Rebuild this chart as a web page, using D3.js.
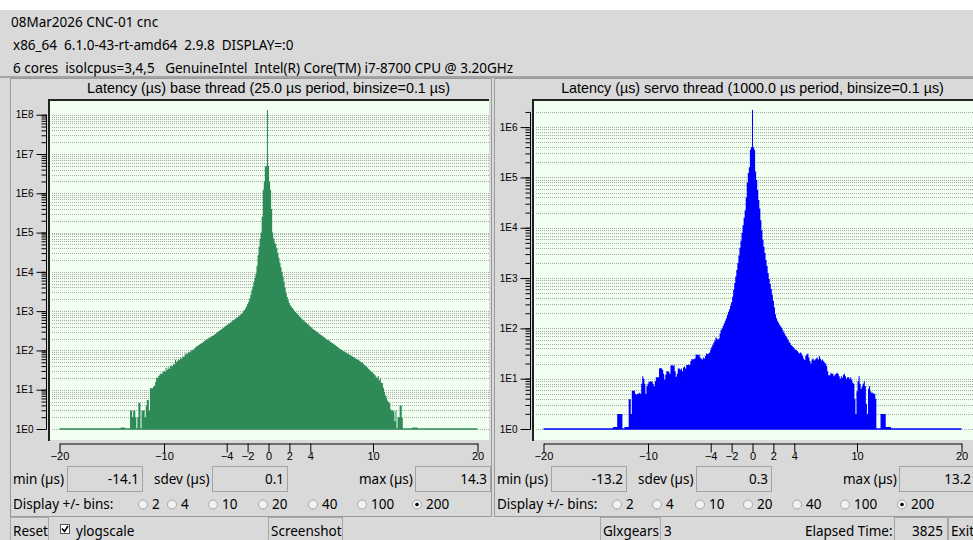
<!DOCTYPE html>
<html>
<head>
<meta charset="utf-8">
<script src="https://cdn.jsdelivr.net/npm/d3@7"></script>
<style>
    body { margin: 0; background: #fff; }
    svg { display: block; font-family: "Noto Sans", sans-serif; }
    .gui-text { font-size: 13.5px; fill: #000; }
    .title { font-family: "Liberation Sans", Arial, sans-serif; font-size: 14.3px; }
    .axis text { font-family: "Liberation Sans", Arial, sans-serif; font-size: 10px; fill: #000; }
    .x-axis text { font-size: 11px; }
    .axis line, .axis path { stroke: #000; }
</style>
</head>
<body>
<svg id="app" width="973" height="540"></svg>
<script>
// text in the header
const headerLines = [
    '08Mar2026 CNC-01 cnc',
    'x86_64  6.1.0-43-rt-amd64  2.9.8  DISPLAY=:0',
    '6 cores  isolcpus=3,4,5   GenuineIntel  Intel(R) Core(TM) i7-8700 CPU @ 3.20GHz'
];

// x axis tick labels (µs) and the "display +/- bins" choices
const binTicks = [-20, -10, -4, -2, 0, 2, 4, 10, 20];
const binChoices = ['2', '4', '10', '20', '40', '100', '200'];
const selectedChoice = '200';

// base thread histogram: log10(count) per 0.1 µs bin, first bin at baseStart
const baseStart = -14.1;
const baseLog10 = [
    0.04, 0.04, 0.04, 0.04, 0, 0, 0, 0, 0, 0.47,
    0.47, 0.3, 0.47, 0.47, 0.3, 0, 0.3, 0.66, 0.66, 0,
    0.47, 0.47, 0.47, 0.3, 0.6, 0.74, 0.74, 0.47, 1.04, 1.04,
    1.04, 1.08, 1.1, 1.2, 1.32, 1.3, 1.35, 1.38, 1.42, 1.4,
    1.45, 1.48, 1.45, 1.55, 1.5, 1.57, 1.53, 1.6, 1.62, 1.58,
    1.66, 1.64, 1.76, 1.7, 1.74, 1.78, 1.75, 1.82, 1.79, 1.85,
    1.83, 1.88, 1.93, 1.9, 1.94, 1.97, 1.95, 2.0, 2.02, 2.01,
    2.05, 2.07, 2.1, 2.11, 2.13, 2.15, 2.17, 2.18, 2.2, 2.23,
    2.24, 2.27, 2.28, 2.3, 2.32, 2.33, 2.35, 2.37, 2.38, 2.4,
    2.42, 2.44, 2.46, 2.48, 2.5, 2.52, 2.54, 2.56, 2.58, 2.6,
    2.62, 2.64, 2.66, 2.68, 2.7, 2.72, 2.74, 2.76, 2.78, 2.8,
    2.82, 2.84, 2.86, 2.88, 2.9, 2.93, 2.96, 3.0, 3.03, 3.07,
    3.12, 3.18, 3.24, 3.32, 3.42, 3.53, 3.63, 3.74, 3.85, 3.96,
    4.15, 4.42, 4.64, 4.85, 5.0, 5.4, 6.09, 6.3, 6.68, 6.7,
    8.12,
    6.7, 6.3, 6.09, 5.6, 5.0, 4.85, 4.75, 4.7, 4.6, 4.48,
    4.35, 4.23, 4.12, 4.0, 3.88, 3.74, 3.6, 3.46, 3.36, 3.28,
    3.21, 3.15, 3.11, 3.08, 3.04, 3.01, 2.98, 2.95, 2.92, 2.89,
    2.86, 2.83, 2.8, 2.78, 2.76, 2.73, 2.71, 2.68, 2.66, 2.64,
    2.61, 2.59, 2.56, 2.54, 2.52, 2.5, 2.48, 2.46, 2.44, 2.42,
    2.4, 2.38, 2.36, 2.34, 2.32, 2.3, 2.28, 2.26, 2.25, 2.23,
    2.21, 2.19, 2.17, 2.15, 2.13, 2.11, 2.09, 2.07, 2.05, 2.03,
    2.02, 2.0, 1.98, 1.97, 1.95, 1.93, 1.92, 1.9, 1.88, 1.87,
    1.85, 1.84, 1.82, 1.8, 1.79, 1.77, 1.76, 1.74, 1.72, 1.7,
    1.68, 1.66, 1.63, 1.61, 1.58, 1.56, 1.53, 1.5, 1.47, 1.45,
    1.43, 1.4, 1.37, 1.33, 1.3, 1.35, 1.24, 1.3, 1.18, 1.17,
    1.05, 0.95, 0.85, 0.8, 0.72, 0.68, 0.66, 0.5, 0.47, 0.47,
    0.45, 0.2, 0.47, 0, 0.3, 0.3, 0.6, 0.6, 0.28, 0,
    0, 0, 0, 0, 0, 0, 0, 0, 0.04, 0.04,
    0.04, 0.04, 0.04
];

// servo thread histogram: log10(count) per 0.1 µs bin, first bin at servoStart
const servoStart = -13.3;
const servoLog10 = [
    0.04, 0.04, 0.04, 0.04, 0.3, 0.3, 0.3, 0.3, 0.3, 0,
    0, 0.04, 0.04, 0.04, 0.04, 0.59, 0.59, 0.3, 0.76, 0.76,
    0.76, 0.7, 0.68, 0.7, 0.7, 0.72, 0.7, 0.9, 1.05, 1.0,
    0.9, 0.7, 0.85, 0.9, 0.94, 0.94, 0.95, 0.94, 0.9, 0.85,
    0.95, 1.03, 1.03, 1.03, 1.2, 1.21, 1.2, 1.18, 1.1, 0.98,
    1.08, 1.15, 1.15, 1.14, 1.1, 1.26, 1.27, 1.25, 1.27, 1.15,
    1.04, 1.1, 1.2, 1.2, 1.18, 1.2, 1.15, 1.22, 1.24, 1.2,
    1.27, 1.27, 1.28, 1.27, 1.35, 1.39, 1.38, 1.39, 1.4, 1.48,
    1.48, 1.47, 1.48, 1.42, 1.4, 1.38, 1.42, 1.4, 1.45, 1.5,
    1.49, 1.5, 1.52, 1.58, 1.63, 1.67, 1.72, 1.76, 1.82, 1.8,
    1.78, 1.8, 1.9, 1.97, 2.0, 2.05, 2.1, 2.15, 2.2, 2.27,
    2.33, 2.38, 2.45, 2.52, 2.63, 2.77, 2.9, 3.03, 3.16, 3.3,
    3.45, 3.6, 3.74, 3.9, 4.05, 4.2, 4.35, 4.6, 4.9, 5.09,
    5.2, 5.55, 5.6,
    6.34,
    5.6, 5.55, 5.12, 4.95, 4.75, 4.55, 4.38, 4.15, 3.95, 3.76,
    3.62, 3.5, 3.36, 3.24, 3.1, 2.98, 2.88, 2.78, 2.67, 2.55,
    2.42, 2.28, 2.2, 2.15, 2.11, 2.07, 2.04, 2.01, 1.97, 1.93,
    1.89, 1.85, 1.82, 1.78, 1.74, 1.71, 1.67, 1.65, 1.63, 1.6,
    1.58, 1.57, 1.55, 1.52, 1.5, 1.52, 1.5, 1.45, 1.4, 1.37,
    1.45, 1.48, 1.5, 1.42, 1.35, 1.3, 1.38, 1.4, 1.36, 1.38,
    1.4, 1.42, 1.38, 1.45, 1.4, 1.36, 1.38, 1.35, 1.32, 1.3,
    1.25, 1.15, 1.07, 1.07, 1.12, 1.1, 1.1, 1.05, 1.08, 1.1,
    1.12, 1.1, 1.05, 1.0, 1.05, 1.02, 1.08, 1.1, 1.05, 1.0,
    1.03, 1.03, 1.0, 1.03, 0.98, 0.92, 0.9, 0.6, 0.3, 0.75,
    0.95, 1.05, 0.9, 0.8, 0.85, 0.9, 0.95, 0.85, 0.5, 0.3,
    0.8, 0.85, 0.75, 0.72, 0.72, 0.7, 0.7, 0.6, 0, 0,
    0, 0, 0.3, 0.3, 0.3, 0.3, 0.3, 0.04, 0.04, 0.04,
    0.04, 0.04
];

// min / sdev / max shown under each plot
const baseStats = ['-14.1', '0.1', '14.3'];
const servoStats = ['-13.2', '0.3', '13.2'];
const statLabels = ['min (µs)', 'sdev (µs)', 'max (µs)'];

class LatencyPanel {

    /**
     * Class constructor with initial configuration
     */
    constructor(_config, _data) {
        this.config = {
            parentElement: _config.parentElement,
            left: _config.left,
            title: _config.title,
            color: _config.color,
            start: _config.start,
            stats: _config.stats,
            radioX: _config.radioX,
            binWidth: 0.1
        };
        this.data = _data;
        this.initVis();
    }

    initVis() {
        let vis = this;
        let ox = vis.config.left;

        vis.plotLeft = ox + 40;
        vis.plotRight = Math.min(ox + 479, 973);
        vis.plotTop = 100;
        vis.plotBottom = 440;

        // bins centred on their value
        vis.bins = vis.data.map((v, i) => ({ x: vis.config.start + i * vis.config.binWidth, v: v }));
        const peak = Math.pow(10, d3.max(vis.data));

        vis.xScale = d3.scaleLinear().domain([-20, 20]).range([ox + 49.5, ox + 467.5]);
        vis.yScale = d3.scaleLog().domain([1, peak]).range([429, 110]);

        vis.g = d3.select(vis.config.parentElement).append('g');

        // panel frame
        vis.g.append('rect')
            .attr('x', ox + 0.5).attr('y', 78.5)
            .attr('width', 481).attr('height', 438)
            .attr('fill', 'none').attr('stroke', '#9a9a9a');

        vis.g.append('text')
            .attr('class', 'title')
            .attr('x', vis.xScale(0)).attr('y', 93)
            .attr('text-anchor', 'middle')
            .text(vis.config.title);

        vis.g.append('rect')
            .attr('x', vis.plotLeft).attr('y', vis.plotTop)
            .attr('width', vis.plotRight - vis.plotLeft).attr('height', vis.plotBottom - vis.plotTop)
            .attr('fill', '#f0fff0');

        vis.renderVis();
    }

    renderVis() {
        let vis = this;
        let ticks = vis.yScale.ticks();

        // dotted grid lines at every log tick
        vis.g.append('g').selectAll('line')
            .data(ticks)
            .join('line')
            .attr('x1', vis.plotLeft + 2).attr('x2', vis.plotRight)
            .attr('y1', d => Math.round(vis.yScale(d)) + 0.5)
            .attr('y2', d => Math.round(vis.yScale(d)) + 0.5)
            .attr('stroke', '#a9a9a9')
            .attr('stroke-dasharray', '1,1');

        // histogram as a stepped area
        let pts = vis.bins.map(d => ({ x: d.x - vis.config.binWidth / 2, v: d.v }));
        let last = vis.bins[vis.bins.length - 1];
        pts.push({ x: last.x + vis.config.binWidth / 2, v: 0 });

        let area = d3.area()
            .curve(d3.curveStepAfter)
            .x(d => vis.xScale(d.x))
            .y0(vis.yScale(1))
            .y1(d => vis.yScale(Math.pow(10, d.v)));

        vis.g.append('path')
            .datum(pts)
            .attr('d', area)
            .attr('fill', vis.config.color);

        // zero-count line across the full range
        vis.g.append('line')
            .attr('x1', vis.xScale(-20)).attr('x2', vis.xScale(20))
            .attr('y1', vis.yScale(1)).attr('y2', vis.yScale(1))
            .attr('stroke', vis.config.color)
            .attr('stroke-width', 1.6);

        // sunken frame edges on the plot
        vis.g.append('path')
            .attr('d', `M${vis.plotLeft - 1},${vis.plotBottom + 1}V${vis.plotTop}H${vis.plotRight}`)
            .attr('fill', 'none')
            .attr('stroke', '#222')
            .attr('stroke-width', 2);

        // y axis: labelled decades + minor ticks
        let decades = ticks.filter(d => Math.abs(Math.log10(d) - Math.round(Math.log10(d))) < 1e-9);
        vis.g.append('g')
            .attr('class', 'axis y-axis')
            .attr('transform', `translate(${vis.plotLeft - 3.5},0)`)
            .call(d3.axisLeft(vis.yScale).tickValues(ticks).tickSize(5).tickFormat(''))
            .call(g => g.select('.domain').attr('d', `M0,${vis.yScale(d3.max(ticks))}V${vis.yScale(1)}`));

        vis.g.append('g')
            .attr('class', 'axis y-axis')
            .attr('transform', `translate(${vis.plotLeft - 3.5},0)`)
            .call(d3.axisLeft(vis.yScale).tickValues(decades).tickSize(10).tickPadding(3)
                .tickFormat(d => '1E' + Math.round(Math.log10(d))))
            .call(g => g.select('.domain').remove());

        // x axis
        vis.g.append('g')
            .attr('class', 'axis x-axis')
            .attr('transform', 'translate(0,443.5)')
            .call(d3.axisBottom(vis.xScale).tickValues(binTicks).tickSize(9).tickSizeOuter(0).tickPadding(0));

        vis.renderControls();
    }

    renderControls() {
        let vis = this;
        let ox = vis.config.left;
        let g = vis.g.append('g').attr('class', 'controls');

        // stats entries
        const labelX = [3, 144, 349];
        const entryX = [57, 202, 405];
        statLabels.forEach((s, i) => {
            g.append('text').attr('class', 'gui-text')
                .attr('x', ox + labelX[i]).attr('y', 484).text(s);
            g.append('rect')
                .attr('x', ox + entryX[i] + 0.5).attr('y', 466.5)
                .attr('width', 75).attr('height', 25)
                .attr('fill', '#d9d9d9').attr('stroke', '#a3a3a3');
            g.append('text').attr('class', 'gui-text')
                .attr('x', ox + entryX[i] + 72).attr('y', 484)
                .attr('text-anchor', 'end').text(vis.config.stats[i]);
        });

        // radio buttons
        g.append('text').attr('class', 'gui-text')
            .attr('x', ox + 3).attr('y', 509).text('Display +/- bins:');
        binChoices.forEach((c, i) => {
            let cx = ox + vis.config.radioX[i];
            g.append('circle')
                .attr('cx', cx).attr('cy', 504.5).attr('r', 4.5)
                .attr('fill', '#f2f2f2').attr('stroke', '#a6a6a6');
            if (c === selectedChoice) {
                g.append('circle').attr('cx', cx).attr('cy', 504.5).attr('r', 1.8).attr('fill', '#000');
            }
            g.append('text').attr('class', 'gui-text')
                .attr('x', cx + 9).attr('y', 509).text(c);
        });
    }
}

const svg = d3.select('#app');
svg.append('rect').attr('width', 973).attr('height', 540).attr('fill', '#d9d9d9');
svg.append('rect').attr('width', 973).attr('height', 10).attr('fill', '#fff');

svg.selectAll('.hdr')
    .data(headerLines)
    .join('text')
    .attr('class', 'gui-text hdr')
    .attr('x', (d, i) => i === 0 ? 11 : 13)
    .attr('y', (d, i) => 27 + i * 23)
    .attr('xml:space', 'preserve')
    .style('white-space', 'pre')
    .text(d => d);

svg.append('line')
    .attr('x1', 0).attr('x2', 973).attr('y1', 77).attr('y2', 77)
    .attr('stroke', '#6e6e6e');

new LatencyPanel({
    parentElement: '#app', left: 10, color: '#2e8b57', start: baseStart, stats: baseStats,
    radioX: [133, 162, 203, 253, 303, 352, 407],
    title: 'Latency (µs) base thread (25.0 µs period, binsize=0.1 µs)'
}, baseLog10);

new LatencyPanel({
    parentElement: '#app', left: 494, color: '#0000ff', start: servoStart, stats: servoStats,
    radioX: [123, 163, 206, 254, 303, 351, 408],
    title: 'Latency (µs) servo thread (1000.0 µs period, binsize=0.1 µs)'
}, servoLog10);

// bottom row widgets
function button(x, w, label) {
    svg.append('rect')
        .attr('x', x + 0.5).attr('y', 517.5).attr('width', w).attr('height', 26)
        .attr('fill', '#d9d9d9').attr('stroke', '#a8a8a8');
    svg.append('text').attr('class', 'gui-text').attr('x', x + 3).attr('y', 536).text(label);
}
button(10, 38, 'Reset');
button(268, 74, 'Screenshot');
button(600, 60, 'Glxgears');
button(948, 40, 'Exit');

svg.append('rect')
    .attr('x', 60.5).attr('y', 524.5).attr('width', 9).attr('height', 9)
    .attr('fill', '#fff').attr('stroke', '#555');
svg.append('path')
    .attr('d', 'M62,528.5 L64.5,531.5 L68,526')
    .attr('fill', 'none').attr('stroke', '#000').attr('stroke-width', 1.6);
svg.append('text').attr('class', 'gui-text').attr('x', 76).attr('y', 536).text('ylogscale');
svg.append('text').attr('class', 'gui-text').attr('x', 664).attr('y', 536).text('3');
svg.append('text').attr('class', 'gui-text').attr('x', 805).attr('y', 536).text('Elapsed Time:');
svg.append('rect')
    .attr('x', 894.5).attr('y', 517.5).attr('width', 53).attr('height', 26)
    .attr('fill', '#d9d9d9').attr('stroke', '#a3a3a3');
svg.append('text').attr('class', 'gui-text').attr('x', 943).attr('y', 536)
    .attr('text-anchor', 'end').text('3825');
</script>
</body>
</html>
